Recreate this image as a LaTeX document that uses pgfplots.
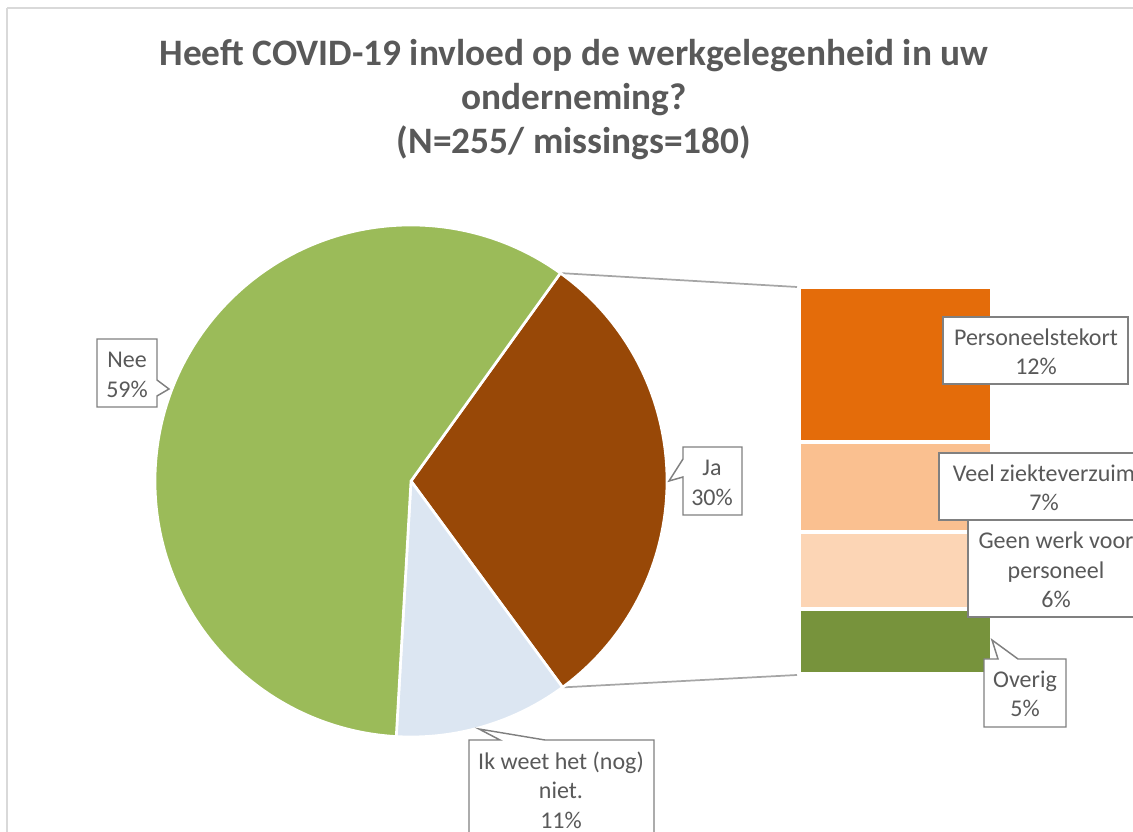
\documentclass[border=0pt]{standalone}
\usepackage{pgfplots}
\pgfplotsset{compat=1.18}
\usepackage{pgfplotstable}
\usepackage{fontspec}
\setmainfont{Carlito}

\definecolor{neeC}{HTML}{9BBB59}
\definecolor{jaC}{HTML}{984807}
\definecolor{ikC}{HTML}{DCE6F2}
\definecolor{persC}{HTML}{E46C0A}
\definecolor{veelC}{HTML}{FAC090}
\definecolor{geenC}{HTML}{FCD5B5}
\definecolor{overigC}{HTML}{77933C}
\definecolor{txt}{HTML}{595959}
\definecolor{edge}{HTML}{808080}
\definecolor{frame}{HTML}{D9D9D9}
\definecolor{conn}{HTML}{A6A6A6}

% pie: Ja, Ik weet het (nog) niet., Nee (clockwise from the top joint)
\pgfplotstableread{
value col
30 jaC
11 ikC
59 neeC
}\piedata

% bar of pie, bottom to top
\pgfplotstableread{
x value
0.5 5
}\overig
\pgfplotstableread{
x value
0.5 6
}\geen
\pgfplotstableread{
x value
0.5 7
}\veel
\pgfplotstableread{
x value
0.5 12
}\pers

\begin{document}
\begin{tikzpicture}
\path[use as bounding box, clip] (0,0) rectangle (849.75pt,624pt);

\begin{scope}[x=0.75pt, y=-0.75pt, shift={(0,624pt)}]
  % chart frame
  \draw[frame, line width=1.2pt] (7,8) -- (1150,8);
  \draw[frame, line width=1.2pt] (7,8) -- (7,850);

  % title
  \node[txt, font=\fontsize{28}{33}\selectfont\bfseries, align=center] at (574,100)
    {Heeft COVID-19 invloed op de werkgelegenheid in uw\\onderneming?\\(N=255/ missings=180)};

  % connectors
  \draw[conn, line width=1.3pt] (560.4,273.1) -- (797,287);
  \draw[conn, line width=1.3pt] (562.6,687.4) -- (797,675);

  % pie
  \coordinate (pc) at (411,481);
\end{scope}

\def\R{192pt}
\def\angA{54.3}
\pgfplotstablegetrowsof{\piedata}
\pgfmathtruncatemacro\nrows{\pgfplotsretval-1}
\pgfplotsforeachungrouped \i in {0,...,\nrows}{%
  \pgfplotstablegetelem{\i}{value}\of\piedata \let\val\pgfplotsretval
  \pgfplotstablegetelem{\i}{col}\of\piedata \let\col\pgfplotsretval
  \pgfmathsetmacro\angB{\angA-3.6*\val}
  \fill[\col, draw=white, line width=2pt] (pc) -- ++(\angA:\R) arc[start angle=\angA, end angle=\angB, radius=\R] -- cycle;
  \global\let\angA\angB
}

% bar of pie
\begin{axis}[
  at={(599.25pt,118.5pt)}, anchor=south west,
  width=144.75pt, height=290.25pt, scale only axis,
  hide axis, xmin=0, xmax=1, ymin=0, ymax=30,
  ybar stacked, bar width=144.75pt,
  every axis plot/.append style={draw=white, line width=3pt},
]
\addplot[fill=overigC] table[x=x, y=value] {\overig};
\addplot[fill=geenC] table[x=x, y=value] {\geen};
\addplot[fill=veelC] table[x=x, y=value] {\veel};
\addplot[fill=persC] table[x=x, y=value] {\pers};
\end{axis}

\begin{scope}[x=0.75pt, y=-0.75pt, shift={(0,624pt)},
  cal/.style={draw=edge, fill=white, line width=1.1pt},
  lab/.style={txt, font=\fontsize{18}{22}\selectfont, align=center}]
  % Nee
  \draw[cal] (97,339) -- (157,339) -- (157,380) -- (169,389) -- (157,396) -- (157,407) -- (97,407) -- cycle;
  \node[lab] at (127,375) {Nee\\59\%};
  % Ja
  \draw[cal] (683,447) -- (742,447) -- (742,515) -- (683,515) -- (683,477) -- (669,481) -- (683,459) -- cycle;
  \node[lab] at (712,483) {Ja\\30\%};
  % Ik weet
  \draw[cal] (469,740) -- (500,740) -- (479,729) -- (545,740) -- (654,740) -- (654,860) -- (469,860) -- cycle;
  \node[lab] at (561,790) {Ik weet het (nog)\\niet.\\11\%};
  % Personeelstekort
  \draw[cal] (943,317) rectangle (1128,384);
  \node[lab] at (1036,352) {Personeelstekort\\12\%};
  % Veel ziekteverzuim
  \draw[cal] (939,453) rectangle (1160,520);
  \node[lab] at (1044,488) {Veel ziekteverzuim\\7\%};
  % Geen werk voor personeel
  \draw[cal] (968,520) rectangle (1160,617);
  \node[lab] at (1056,570) {Geen werk voor\\personeel\\6\%};
  % Overig
  \draw[cal] (984,659) -- (998,659) -- (992,640) -- (1018,659) -- (1066,659) -- (1066,727) -- (984,727) -- cycle;
  \node[lab] at (1025,694) {Overig\\5\%};
\end{scope}
\end{tikzpicture}
\end{document}
